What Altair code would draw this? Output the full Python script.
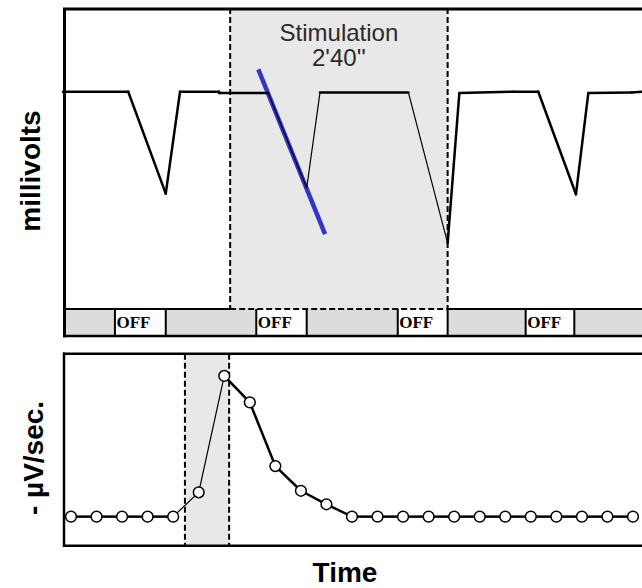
import altair as alt
import pandas as pd

# ---------------- upper panel: membrane potential trace ----------------
trace_t = [0, 48.0, 75.6, 86.1, 114.8, 114.8, 151.0, 179.3, 189.1, 254.1,
           283.0, 291.6, 331.3, 349.7, 377.4, 386.5, 418.4, 426]          # s
trace_mv = [0, 0, -14.6, 0, 0, -0.2, -0.2, -13.8, -0.1, -0.1,
            -21.7, -0.2, 0, 0, -14.7, -0.2, -0.1, 0]                      # mV

stim_start, stim_end = 123, 283          # s  (2'40'')
stim_label = "Stimulation\n2'40''"

off_start = [38.2, 142.2, 246.3, 340.4]  # s
off_end = [75.6, 179.3, 283.0, 376.2]
off_label = "OFF"

slope_t = [143.7, 192.8]
slope_mv = [3.2, -20.4]

# ---------------- lower panel: rate of potential change ----------------
rate_sample = list(range(23))
rate_value = [14.7, 14.7, 14.7, 14.7, 14.7, 27.3, 87.6, 73.9, 40.9, 28.1, 21.1,
              14.7, 14.7, 14.7, 14.7, 14.7, 14.7, 14.7, 14.7, 14.7, 14.7, 14.7, 14.7]
rate_stim = [4.46, 6.19]

y_title_top = "millivolts"
y_title_bottom = "- µV/sec."
x_title = "Time"

# ---------------- layout ----------------
W, H = 579, 537
TOP_H = 301          # trace area (ends at divider)
STRIP_B = 328        # bottom of OFF strip
BOT_T, BOT_B = 345.7, 537.7

SANS = "Liberation Sans"
SERIF = "Liberation Serif"

tx = alt.Scale(domain=[0, 426], range=[0, W], nice=False, zero=False)
ty = alt.Scale(domain=[-31, 12], range=[300, 0], nice=False, zero=False)
bx = alt.Scale(domain=[-0.313, 22.353], range=[0, W], nice=False, zero=False)
by = alt.Scale(domain=[0, 100], range=[537, 344], nice=False, zero=False)


def segments(xs, ys, lo, hi, min_dy):
    rows = []
    for i in range(len(xs) - 1):
        mid = (xs[i] + xs[i + 1]) / 2
        thin = lo <= mid <= hi and abs(ys[i + 1] - ys[i]) > min_dy
        rows.append({"x0": xs[i], "x1": xs[i + 1], "y0": ys[i], "y1": ys[i + 1], "thin": thin})
    return pd.DataFrame(rows)


trace_seg = segments(trace_t, trace_mv, stim_start, stim_end, 1.0)
rate_seg = segments(rate_sample, rate_value, rate_stim[0], rate_stim[1], 1.0)

one = pd.DataFrame({"k": [0]})
stim_df = pd.DataFrame({"a": [stim_start], "b": [stim_end],
                        "mid": [(stim_start + stim_end) / 2], "label": [stim_label]})
off_df = pd.DataFrame({"a": off_start, "b": off_end, "label": [off_label] * len(off_start)})
edges_df = pd.DataFrame({"x": off_start + off_end})
stim_edges = pd.DataFrame({"x": [stim_start, stim_end]})
divider_df = pd.DataFrame({"a": [0, stim_end], "b": [stim_start, 426]})
slope_df = pd.DataFrame({"x0": [slope_t[0]], "x1": [slope_t[1]],
                         "y0": [slope_mv[0]], "y1": [slope_mv[1]]})
rate_df = pd.DataFrame({"s": rate_sample, "v": rate_value})
rate_stim_df = pd.DataFrame({"a": [rate_stim[0]], "b": [rate_stim[1]]})
rate_edges = pd.DataFrame({"x": rate_stim})

layers = []

# stimulation shading, upper panel
layers.append(alt.Chart(stim_df).mark_rect(color="#e8e8e8").encode(
    x=alt.X("a:Q", scale=tx, axis=None), x2="b:Q",
    y=alt.value(0), y2=alt.value(TOP_H)))

# OFF strip
layers.append(alt.Chart(one).mark_rect(color="#dcdcdc").encode(
    x=alt.value(0), x2=alt.value(W), y=alt.value(TOP_H), y2=alt.value(STRIP_B)))
layers.append(alt.Chart(off_df).mark_rect(color="white").encode(
    x=alt.X("a:Q", scale=tx, axis=None), x2="b:Q",
    y=alt.value(TOP_H), y2=alt.value(STRIP_B)))
layers.append(alt.Chart(edges_df).mark_rule(color="black", strokeWidth=2).encode(
    x=alt.X("x:Q", scale=tx, axis=None), y=alt.value(TOP_H), y2=alt.value(STRIP_B)))
layers.append(alt.Chart(off_df).mark_text(
    font=SERIF, fontSize=17, fontWeight="bold", align="left", baseline="alphabetic",
    dx=1.5, color="black").encode(
    x=alt.X("a:Q", scale=tx, axis=None), y=alt.value(319.5), text="label:N"))

# stimulation boundaries and divider
layers.append(alt.Chart(stim_edges).mark_rule(color="black", strokeWidth=2, strokeDash=[6, 3]).encode(
    x=alt.X("x:Q", scale=tx, axis=None), y=alt.value(0), y2=alt.value(TOP_H)))
layers.append(alt.Chart(divider_df).mark_rule(color="black", strokeWidth=2).encode(
    x=alt.X("a:Q", scale=tx, axis=None), x2="b:Q", y=alt.value(TOP_H)))
layers.append(alt.Chart(stim_df).mark_rule(color="black", strokeWidth=2, strokeDash=[6, 3]).encode(
    x=alt.X("a:Q", scale=tx, axis=None), x2="b:Q", y=alt.value(TOP_H)))

# frame of upper panel
layers.append(alt.Chart(one).mark_rule(color="black", strokeWidth=3).encode(
    x=alt.value(0), x2=alt.value(W), y=alt.value(1)))
layers.append(alt.Chart(one).mark_rule(color="black", strokeWidth=2.5).encode(
    x=alt.value(0), x2=alt.value(W), y=alt.value(STRIP_B)))
layers.append(alt.Chart(one).mark_rule(color="black", strokeWidth=3).encode(
    x=alt.value(1.5), y=alt.value(0), y2=alt.value(STRIP_B + 1.2)))

# slope indicator
layers.append(alt.Chart(slope_df).mark_rule(color="#3434c8", strokeWidth=4.5).encode(
    x=alt.X("x0:Q", scale=tx, axis=None), x2="x1:Q",
    y=alt.Y("y0:Q", scale=ty, axis=None), y2="y1:Q"))

# trace
layers.append(alt.Chart(trace_seg).transform_filter("!datum.thin").mark_rule(
    color="black", strokeWidth=2.5, strokeCap="round").encode(
    x=alt.X("x0:Q", scale=tx, axis=None), x2="x1:Q",
    y=alt.Y("y0:Q", scale=ty, axis=None), y2="y1:Q"))
layers.append(alt.Chart(trace_seg).transform_filter("datum.thin").mark_rule(
    color="black", strokeWidth=1.2).encode(
    x=alt.X("x0:Q", scale=tx, axis=None), x2="x1:Q",
    y=alt.Y("y0:Q", scale=ty, axis=None), y2="y1:Q"))

# stimulation label
layers.append(alt.Chart(stim_df).mark_text(
    font=SANS, fontSize=24, color="#2a2a2a", align="center", baseline="alphabetic",
    lineBreak="\n", lineHeight=25).encode(
    x=alt.X("mid:Q", scale=tx, axis=None), y=alt.value(33), text="label:N"))

# ---------------- lower panel ----------------
layers.append(alt.Chart(rate_stim_df).mark_rect(color="#e8e8e8").encode(
    x=alt.X("a:Q", scale=bx, axis=None), x2="b:Q",
    y=alt.value(BOT_T), y2=alt.value(BOT_B)))
layers.append(alt.Chart(rate_edges).mark_rule(color="black", strokeWidth=2, strokeDash=[6, 3]).encode(
    x=alt.X("x:Q", scale=bx, axis=None), y=alt.value(BOT_T), y2=alt.value(BOT_B)))
layers.append(alt.Chart(one).mark_rule(color="black", strokeWidth=2.5).encode(
    x=alt.value(0), x2=alt.value(W), y=alt.value(BOT_T)))
layers.append(alt.Chart(one).mark_rule(color="black", strokeWidth=2.5).encode(
    x=alt.value(0), x2=alt.value(W), y=alt.value(BOT_B)))
layers.append(alt.Chart(one).mark_rule(color="black", strokeWidth=2.5).encode(
    x=alt.value(1), y=alt.value(BOT_T - 1.2), y2=alt.value(BOT_B + 1.2)))

layers.append(alt.Chart(rate_seg).transform_filter("!datum.thin").mark_rule(
    color="black", strokeWidth=2.5).encode(
    x=alt.X("x0:Q", scale=bx, axis=None), x2="x1:Q",
    y=alt.Y("y0:Q", scale=by, axis=None), y2="y1:Q"))
layers.append(alt.Chart(rate_seg).transform_filter("datum.thin").mark_rule(
    color="black", strokeWidth=1.2).encode(
    x=alt.X("x0:Q", scale=bx, axis=None), x2="x1:Q",
    y=alt.Y("y0:Q", scale=by, axis=None), y2="y1:Q"))
layers.append(alt.Chart(rate_df).mark_point(
    shape="circle", filled=True, fill="white", stroke="black", strokeWidth=1.5,
    size=115, opacity=1).encode(
    x=alt.X("s:Q", scale=bx, axis=None), y=alt.Y("v:Q", scale=by, axis=None)))

# ---------------- titles ----------------
layers.append(alt.Chart(pd.DataFrame({"label": [y_title_top]})).mark_text(
    font=SANS, fontSize=28, fontWeight="bold", angle=270, align="center",
    baseline="alphabetic", color="black").encode(
    x=alt.value(-23), y=alt.value(163), text="label:N"))
layers.append(alt.Chart(pd.DataFrame({"label": [y_title_bottom]})).mark_text(
    font=SANS, fontSize=28, fontWeight="bold", angle=270, align="center",
    baseline="alphabetic", color="black").encode(
    x=alt.value(-20), y=alt.value(450), text="label:N"))
layers.append(alt.Chart(pd.DataFrame({"label": [x_title]})).mark_text(
    font=SANS, fontSize=28, fontWeight="bold", align="center",
    baseline="alphabetic", color="black").encode(
    x=alt.value(282), y=alt.value(574), text="label:N"))

chart = alt.layer(*layers).resolve_scale(
    x="independent", y="independent"
).properties(
    width=W, height=H,
    autosize=alt.AutoSizeParams(type="none"),
    padding={"left": 63, "top": 8, "right": 0, "bottom": 43},
    background="white",
).configure_view(stroke=None)

chart.save("out.html", embed_options={"renderer": "svg", "actions": False})
